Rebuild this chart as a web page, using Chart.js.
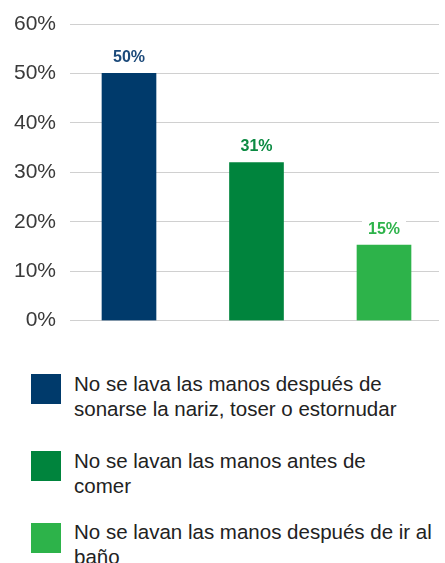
<!DOCTYPE html>
<html>
<head>
<meta charset="utf-8">
<script src="https://cdn.jsdelivr.net/npm/chart.js@4/dist/chart.umd.min.js"></script>
<style>
  html, body { margin: 0; padding: 0; background: #ffffff; }
  body { width: 445px; height: 563px; position: relative; overflow: hidden;
         font-family: "Liberation Sans", Arial, sans-serif; }
  #wrap { position: absolute; left: 0; top: 0; width: 445px; height: 340px; }
  .sq { position: absolute; left: 31px; width: 30px; height: 30px; }
  .lt { position: absolute; left: 74px; font-size: 20.5px; line-height: 25px; color: #222222; }
</style>
</head>
<body>
<div id="wrap"><canvas id="c"></canvas></div>
<div id="legend"></div>
<script>
// ---- data ----
const categories = [
  "No se lava las manos después de sonarse la nariz, toser o estornudar",
  "No se lavan las manos antes de comer",
  "No se lavan las manos después de ir al baño"
];
const values = [50, 32, 15.3];
const valueLabels = ["50%", "31%", "15%"];
const yTicks = [0, 10, 20, 30, 40, 50, 60];
const barColors = ["#003a6b", "#00843d", "#2db34a"];
const labelColors = ["#1c4a7a", "#0b8a42", "#2db34a"];

// ---- legend (HTML, real text) ----
const legendPos = [ {sq: 374, txt: 371, w: 360}, {sq: 451, txt: 448, w: 340}, {sq: 523, txt: 519, w: 366} ];
const legend = document.getElementById('legend');
categories.forEach((c, i) => {
  const s = document.createElement('div');
  s.className = 'sq'; s.style.top = legendPos[i].sq + 'px'; s.style.background = barColors[i];
  const t = document.createElement('div');
  t.className = 'lt'; t.style.top = legendPos[i].txt + 'px'; t.style.width = legendPos[i].w + 'px';
  t.textContent = c;
  legend.appendChild(s); legend.appendChild(t);
});

// ---- value labels plugin ----
const valueLabelPlugin = {
  id: 'valueLabels',
  afterDatasetsDraw(chart) {
    const ctx = chart.ctx;
    const meta = chart.getDatasetMeta(0);
    ctx.save();
    ctx.font = 'bold 16px "Liberation Sans", Arial, sans-serif';
    ctx.textAlign = 'center';
    ctx.textBaseline = 'alphabetic';
    meta.data.forEach((bar, i) => {
      const txt = valueLabels[i];
      const y = bar.y - 11;
      const w = ctx.measureText(txt).width;
      ctx.fillStyle = '#ffffff';
      ctx.fillRect(bar.x - w / 2 - 6, y - 14, w + 12, 17);
      ctx.fillStyle = labelColors[i];
      ctx.fillText(txt, bar.x, y);
    });
    ctx.restore();
  }
};

new Chart(document.getElementById('c'), {
  type: 'bar',
  data: {
    datasets: [{
      data: values.map((v, i) => ({ x: i, y: v })),
      backgroundColor: barColors,
      barThickness: 54,
      borderWidth: 0
    }]
  },
  options: {
    responsive: true,
    maintainAspectRatio: false,
    animation: false,
    layout: { padding: { top: 24, right: 6, bottom: 19.3, left: 0 } },
    plugins: { legend: { display: false }, tooltip: { enabled: false } },
    scales: {
      x: {
        type: 'linear',
        offset: false,
        min: -0.4627,
        max: 2.4314,
        display: false,
        grid: { offset: false }
      },
      y: {
        min: 0,
        max: 60,
        afterFit(scale) { scale.width = 70; scale.paddingTop = 0; scale.paddingBottom = 0; },
        afterBuildTicks(scale) { scale.ticks = yTicks.map(v => ({ value: v })); },
        border: { display: false },
        grid: { color: '#d0d0d0', lineWidth: 1, drawTicks: false },
        ticks: {
          padding: 14,
          color: '#3a3a3a',
          font: { family: '"Liberation Sans", Arial, sans-serif', size: 21 },
          callback: v => v + '%'
        }
      }
    }
  },
  plugins: [valueLabelPlugin]
});
</script>
</body>
</html>
